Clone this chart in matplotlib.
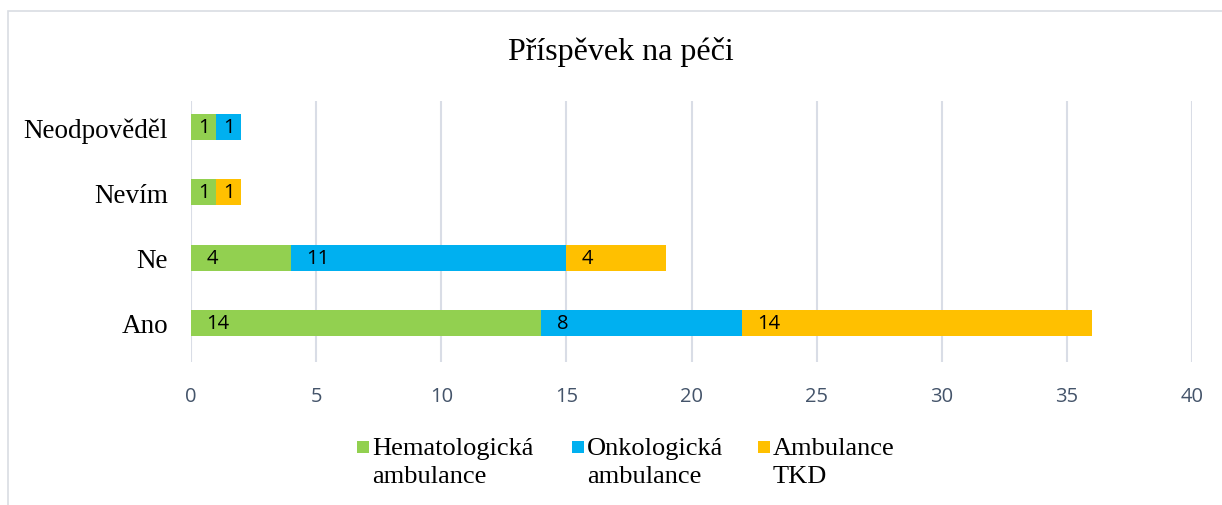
import matplotlib
matplotlib.use("Agg")
import matplotlib.pyplot as plt
from matplotlib.patches import Rectangle

categories = ["Ano", "Ne", "Nevím", "Neodpověděl"]
series_names = ["Hematologická\nambulance", "Onkologická\nambulance", "Ambulance\nTKD"]
hema = [14, 4, 1, 1]
onko = [8, 11, 0, 1]
tkd = [14, 4, 1, 0]
colors = ["#92D050", "#00B0F0", "#FFC000"]
xticks = [0, 5, 10, 15, 20, 25, 30, 35, 40]

W, H = 1222, 506
fig = plt.figure(figsize=(W/100, H/100), dpi=100)
ax = fig.add_axes([191/W, (H-363)/H, (1192-191)/W, (363-102)/H])

# outer chart border
fig.patches.append(Rectangle((8/W, -0.1), 1.2, (H-12)/H + 0.1, transform=fig.transFigure,
                             fill=False, edgecolor="#D9DDE3", linewidth=1.2))

ypos = list(range(len(categories)))
lefts = [0]*len(categories)
for vals, name, col in zip([hema, onko, tkd], series_names, colors):
    ax.barh(ypos, vals, left=lefts, height=0.4, color=col, label=name, zorder=3)
    for y, v, l in zip(ypos, vals, lefts):
        if v > 0:
            if v >= 2:
                ax.text(l + 0.62, y, str(v), ha="left", va="center", fontsize=14.5,
                        family="Open Sans", color="black", zorder=4)
            else:
                ax.text(l + v/2, y, str(v), ha="center", va="center", fontsize=14.5,
                        family="Open Sans", color="black", zorder=4)
    lefts = [a + b for a, b in zip(lefts, vals)]

ax.set_xlim(0, 40)
ax.set_ylim(-0.6, 3.4)
ax.set_xticks(xticks)
ax.set_xticklabels([str(t) for t in xticks], family="Open Sans", fontsize=14.5, color="#44546A")
ax.set_yticks(ypos)
ax.set_yticklabels(categories, family="Liberation Serif", fontsize=19.5, color="black")
ax.tick_params(axis="both", length=0)
ax.tick_params(axis="x", pad=17)
ax.tick_params(axis="y", pad=16.5)
for t in ax.get_yticklabels():
    t.set_va("center_baseline")
ax.grid(axis="x", color="#D9DDE6", linewidth=1.5, zorder=0)
for s in ax.spines.values():
    s.set_visible(False)

fig.text(621/W, 1 - 52/H, "Příspěvek na péči", ha="center", va="center",
         family="Liberation Serif", fontsize=23)

# legend drawn manually: square marker aligned with first line of label
leg_x = [357, 572, 758]
for x0, name, col in zip(leg_x, series_names, colors):
    fig.patches.append(Rectangle((x0/W, (H-454)/H), 12/W, 12/H, transform=fig.transFigure,
                                 facecolor=col, edgecolor="none"))
    fig.text((x0+15)/W, (H-463)/H, name, ha="left", va="center", family="Liberation Serif",
             fontsize=19, linespacing=1.4)

fig.savefig("out.png", dpi=100)
